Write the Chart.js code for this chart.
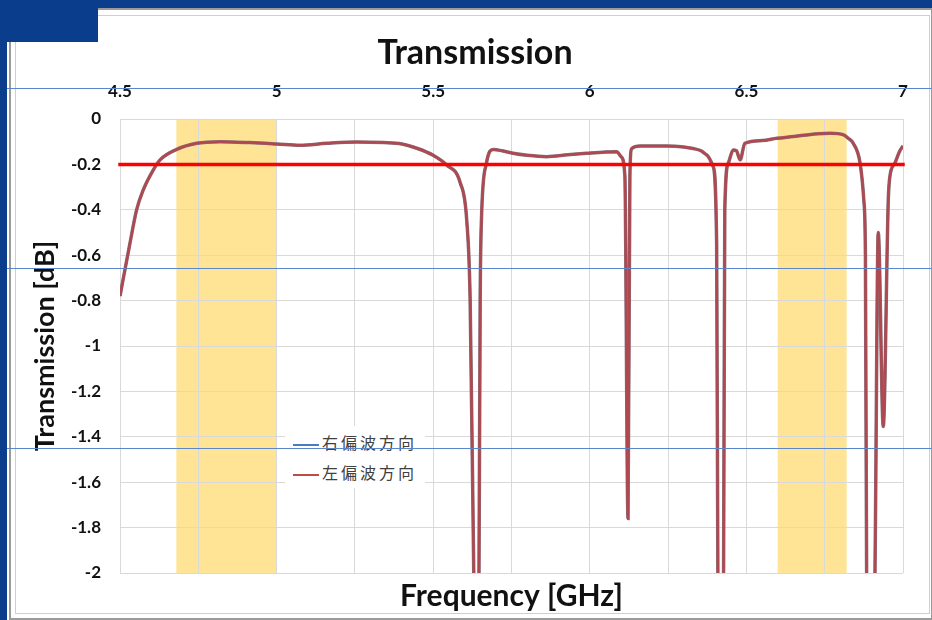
<!DOCTYPE html>
<html>
<head>
<meta charset="utf-8">
<script src="https://cdn.jsdelivr.net/npm/chart.js@4.4.1/dist/chart.umd.min.js"></script>
<style>
  body { margin: 0; background: #fff; }
  #wrap { position: relative; width: 932px; height: 620px; overflow: hidden; background: #fff; }
  .abs { position: absolute; }
  #chart { position: absolute; left: 0; top: 0; }
  #legend { position: absolute; left: 285px; top: 426px; width: 140px; height: 62px; background: #fff;
            font-family: "Noto Sans CJK JP", sans-serif; font-size: 16px; color: #404040; }
  .item { position: absolute; left: 8px; height: 22px; line-height: 22px; letter-spacing: 3px; white-space: nowrap; }
  .swatch { display: inline-block; width: 26px; height: 2px; vertical-align: middle; margin-right: 3px; }
</style>
</head>
<body>
<div id="wrap">
  <!-- slide frame -->
  <div class="abs" style="left:9px;top:8px;width:920px;height:608px;border:2px solid #9a9a9a;"></div>
  <div class="abs" style="left:15px;top:15px;width:913px;height:597px;border:1px solid #cfcfcf;"></div>
  <div class="abs" style="left:0;top:0;width:932px;height:8px;background:#0a3d8c;"></div>
  <div class="abs" style="left:0;top:0;width:7px;height:620px;background:#0a3d8c;"></div>
  <div class="abs" style="left:0;top:0;width:98px;height:42px;background:#0a3d8c;"></div>

  <canvas id="chart" width="932" height="620"></canvas>
  <div id="legend"></div>

  <!-- thin guide lines that cross the picture -->
  <div class="abs" style="left:7px;top:88px;width:925px;height:1px;background:#5b86c8;"></div>
  <div class="abs" style="left:7px;top:268px;width:925px;height:1px;background:#5b86c8;"></div>
  <div class="abs" style="left:7px;top:448px;width:925px;height:1px;background:#5b86c8;"></div>
</div>
<script>
// frequency points (GHz)
const freqGHz = [4.5, 4.532, 4.553, 4.574, 4.606, 4.628, 4.681, 4.745, 4.819, 4.915,
  5.0, 5.075, 5.16, 5.256, 5.341, 5.40, 5.45, 5.50, 5.543, 5.586,
  5.607, 5.618, 5.630, 5.638, 5.646, 5.650, 5.654, 5.67, 5.692, 5.72,
  5.755, 5.80, 5.862, 5.93, 5.99, 6.05, 6.086, 6.10, 6.112, 6.122,
  6.128, 6.134, 6.16, 6.245, 6.30, 6.33, 6.355, 6.373, 6.394, 6.405,
  6.409, 6.418, 6.427, 6.431, 6.442, 6.458, 6.468, 6.48, 6.495, 6.55,
  6.597, 6.65, 6.693, 6.73, 6.768, 6.81, 6.825, 6.841, 6.863, 6.875,
  6.880, 6.884, 6.897, 6.910, 6.921, 6.937, 6.953, 6.958, 6.974, 6.99, 7.0];

// 左偏波方向 transmission [dB]
const leftPolDb = [-0.78, -0.546, -0.40, -0.313, -0.225, -0.18, -0.134, -0.107, -0.10, -0.104,
  -0.11, -0.116, -0.107, -0.101, -0.104, -0.11, -0.13, -0.16, -0.203, -0.28,
  -0.445, -0.8, -2.05, -2.6, -2.05, -0.8, -0.445, -0.195, -0.134, -0.14,
  -0.151, -0.16, -0.166, -0.158, -0.151, -0.145, -0.144, -0.166, -0.25, -1.76,
  -0.25, -0.13, -0.119, -0.119, -0.123, -0.13, -0.14, -0.158, -0.21, -0.55,
  -2.05, -2.6, -2.05, -0.40, -0.195, -0.137, -0.14, -0.18, -0.107, -0.095,
  -0.085, -0.077, -0.07, -0.065, -0.063, -0.07, -0.085, -0.107, -0.195, -0.36,
  -0.6, -2.05, -2.6, -2.05, -0.50, -1.355, -0.357, -0.254, -0.195, -0.14, -0.119];

// 右偏波方向 lies exactly under the red curve in the picture
const rightPolDb = [...leftPolDb];

const seriesNames = ['右偏波方向', '左偏波方向'];
const seriesColors = ['#4a7ebb', '#be4b48'];

const thresholdDb = -0.2;

// highlighted frequency bands (GHz)
const bandFrom = [4.68, 6.60];
const bandTo = [5.0, 6.82];

const xTickLabels = ['4.5', '5', '5.5', '6', '6.5', '7'];
const yTickLabels = ['0', '-0.2', '-0.4', '-0.6', '-0.8', '-1', '-1.2', '-1.4', '-1.6', '-1.8', '-2'];

const toPoints = ys => freqGHz.map((f, i) => ({ x: f, y: ys[i] }));

const bandPlugin = {
  id: 'bands',
  beforeDraw(chart) {
    const { ctx, chartArea, scales: { x } } = chart;
    ctx.save();
    ctx.fillStyle = '#fee494';
    bandFrom.forEach((f, i) => {
      const x0 = x.getPixelForValue(f);
      const x1 = x.getPixelForValue(bandTo[i]);
      ctx.fillRect(x0, chartArea.top, x1 - x0, chartArea.bottom - chartArea.top);
    });
    ctx.restore();
  }
};

const font = 'Lato, "Liberation Sans", sans-serif';
const hidden = { grid: { display: false }, border: { display: false }, ticks: { display: false } };

new Chart(document.getElementById('chart'), {
  type: 'line',
  data: {
    datasets: [
      {
        label: 'threshold',
        data: [{ x: 4.5, y: thresholdDb }, { x: 7, y: thresholdDb }],
        borderColor: '#ff0000',
        borderWidth: 3.5,
        borderCapStyle: 'square',
        pointRadius: 0,
        clip: 5,
        order: -1
      },
      {
        label: seriesNames[1],
        data: toPoints(leftPolDb),
        borderColor: '#b04850',
        borderWidth: 2.5,
        pointRadius: 0,
        cubicInterpolationMode: 'monotone',
        order: 0
      },
      {
        label: seriesNames[0],
        data: toPoints(rightPolDb),
        borderColor: '#86707c',
        borderWidth: 3.5,
        pointRadius: 0,
        cubicInterpolationMode: 'monotone',
        order: 1
      }
    ]
  },
  options: {
    responsive: false,
    animation: false,
    layout: { padding: { left: 18, right: 0, top: 0, bottom: 0 } },
    plugins: {
      legend: { display: false },
      tooltip: { enabled: false },
      title: {
        display: true,
        text: 'Transmission',
        color: '#111',
        font: { family: font, size: 34, weight: 'bold' },
        padding: { top: 33, bottom: 9.2 }
      }
    },
    scales: {
      x: {
        type: 'linear',
        position: 'top',
        min: 4.5,
        max: 7,
        afterFit: s => { s.height = 36; },
        ticks: {
          stepSize: 0.25,
          padding: 16.8,
          maxRotation: 0,
          autoSkip: false,
          color: '#111',
          font: { family: font, size: 17, weight: 'bold' },
          callback: v => {
            const i = Math.round((v - 4.5) * 2);
            return Math.abs((v - 4.5) * 2 - i) < 1e-6 ? xTickLabels[i] : '';
          }
        },
        grid: { color: '#d9d9d9', drawTicks: false },
        border: { color: '#d9d9d9' }
      },
      // bottom axis only carries the axis title
      xTitle: {
        type: 'linear',
        position: 'bottom',
        ...hidden,
        afterFit: s => { s.height = 47; },
        title: {
          display: true,
          text: 'Frequency [GHz]',
          color: '#111',
          font: { family: font, size: 30, weight: 'bold' },
          padding: { top: 0, bottom: 6 }
        }
      },
      y: {
        min: -2,
        max: 0,
        afterFit: s => { s.width = 102; },
        ticks: {
          stepSize: 0.2,
          padding: 19,
          color: '#111',
          font: { family: font, size: 17, weight: 'bold' },
          callback: v => yTickLabels[Math.round(-v * 5)]
        },
        grid: { color: '#d9d9d9', drawTicks: false },
        border: { color: '#d9d9d9' },
        title: {
          display: true,
          text: 'Transmission [dB]',
          color: '#111',
          font: { family: font, size: 27, weight: 'bold' },
          padding: { top: 10.8, bottom: 0 }
        }
      },
      // empty right axis keeps the plot's right margin
      yPad: {
        type: 'linear',
        position: 'right',
        ...hidden,
        afterFit: s => { s.width = 29; }
      }
    }
  },
  plugins: [bandPlugin]
});

// legend drawn as html, placed inside the plot like the original
const legend = document.getElementById('legend');
seriesNames.forEach((name, i) => {
  const row = document.createElement('div');
  row.className = 'item';
  row.style.top = (5 + i * 30) + 'px';
  row.innerHTML = '<span class="swatch" style="background:' + seriesColors[i] + '"></span>' + name;
  legend.appendChild(row);
});
</script>
</body>
</html>
